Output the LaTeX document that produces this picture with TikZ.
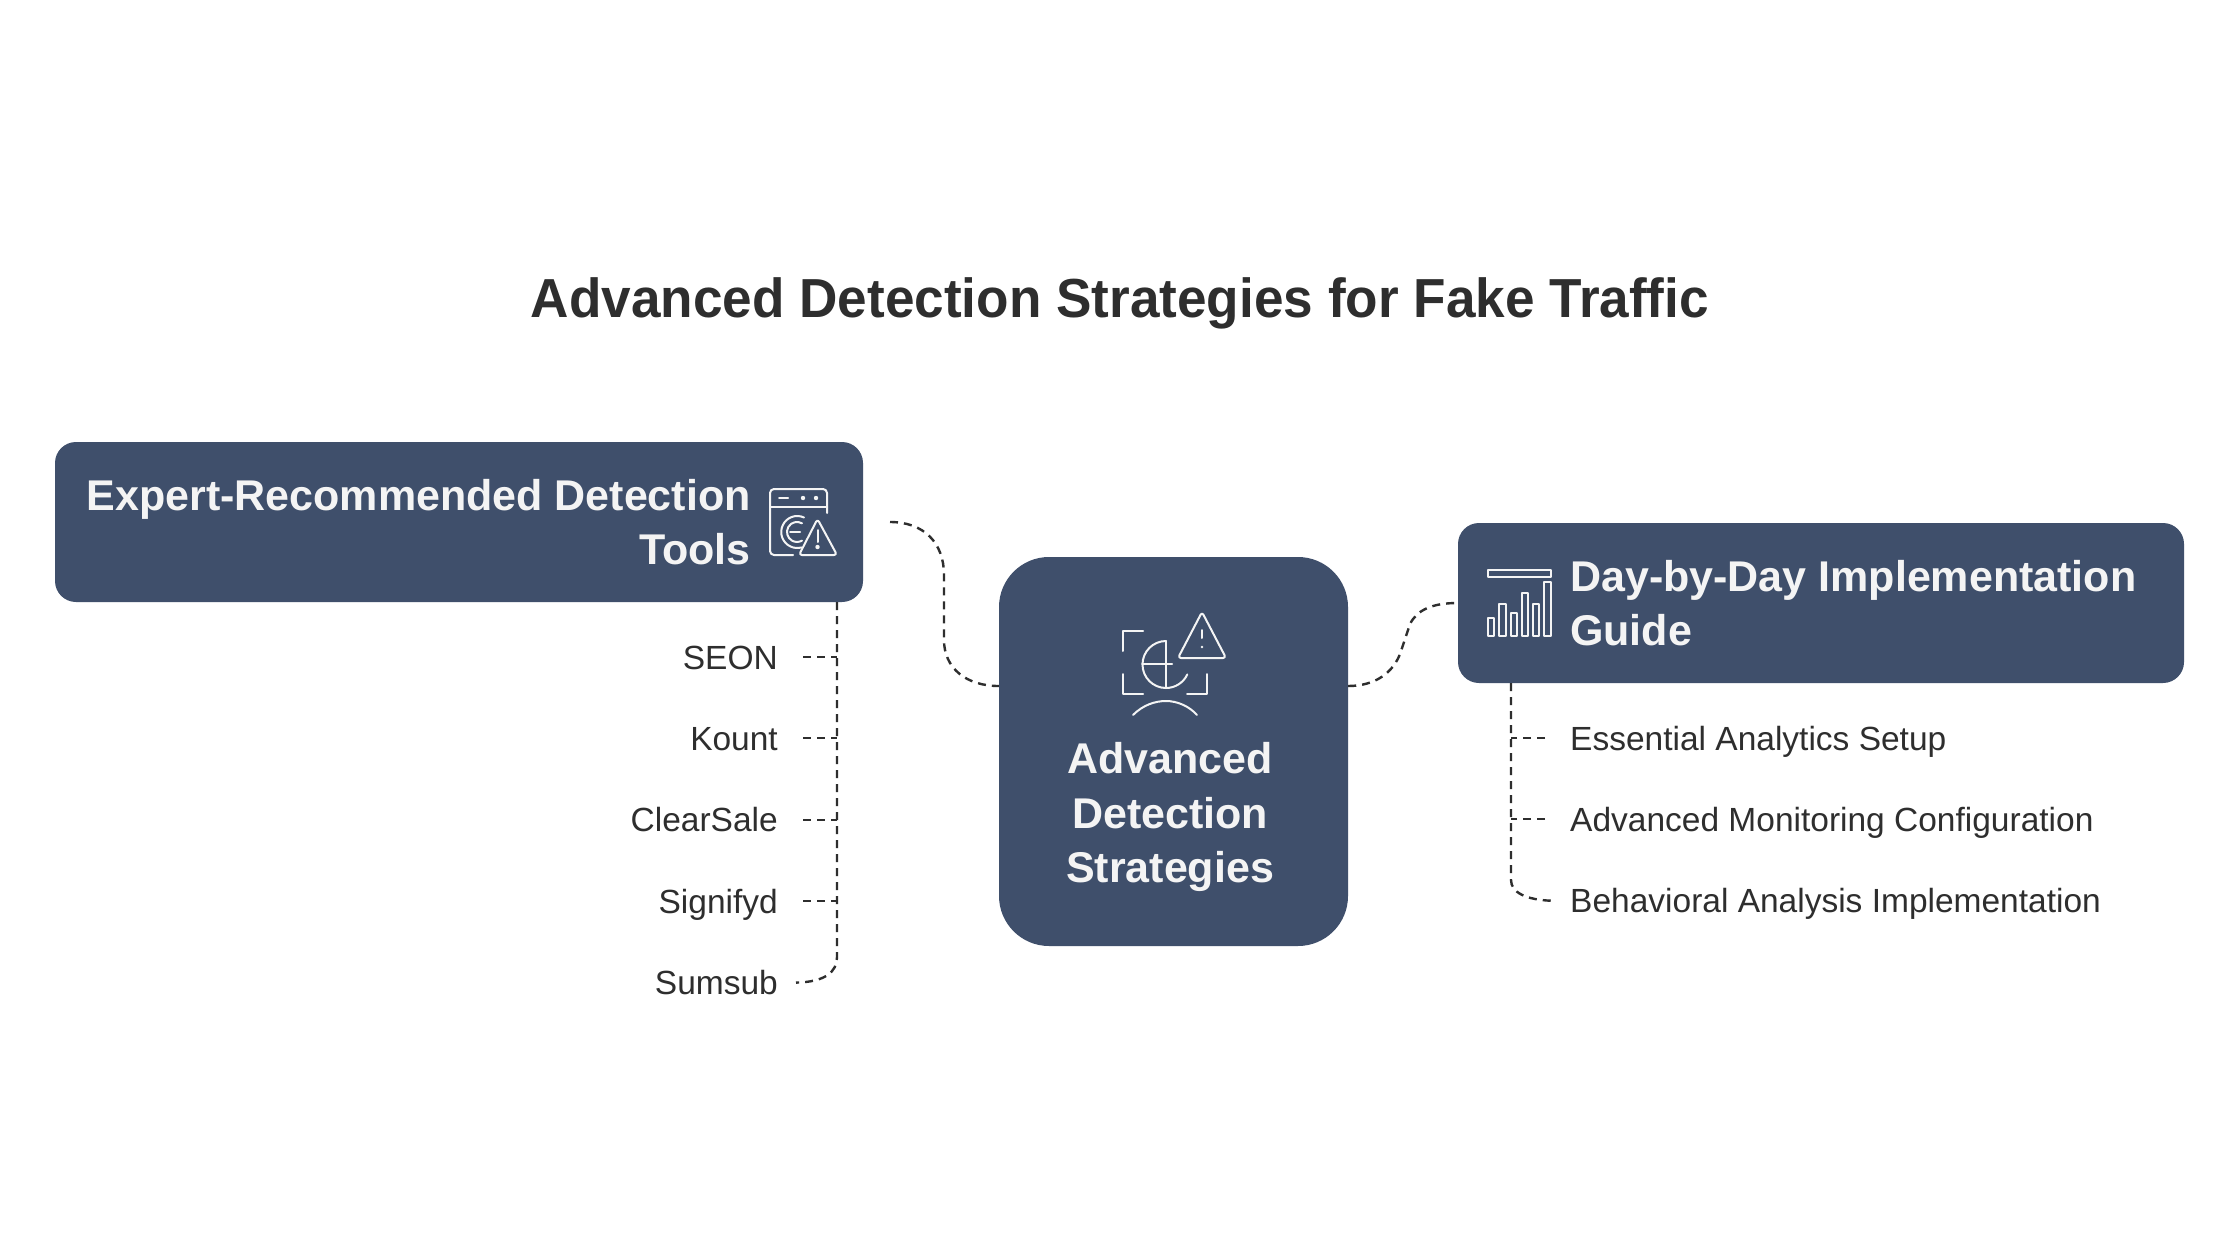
\documentclass[tikz,border=0pt]{standalone}
\usepackage{fontspec}
\setmainfont{Liberation Sans}
\newfontfamily\titlefont[FakeStretch=0.966]{Liberation Sans}
\usetikzlibrary{calc,positioning}
\definecolor{boxblue}{HTML}{3F4F6B}
\definecolor{inktext}{HTML}{2E2E2E}
\definecolor{boxtext}{HTML}{F4F4F4}
\tikzstyle{branch} = [inktext, line width=1.9pt, dash pattern=on 8pt off 6pt]
\tikzstyle{trunk} = [inktext, line width=2.4pt, dash pattern=on 8pt off 6pt]
\tikzstyle{iconline} = [boxtext, line width=2pt, line cap=round, line join=round]

\begin{document}
\begin{tikzpicture}[x=1pt, y=-1pt]
\tikzset{%
	block/.style = { rectangle, fill=boxblue, inner sep=0pt},
	blocktext/.style = { inner sep=0pt, text=boxtext, font=\fontsize{43}{54.3}\selectfont\bfseries},
	item/.style = { inner sep=0pt, minimum height=81pt, text height=26pt, text depth=2pt, text=inktext, font=\fontsize{33.5}{40}\selectfont}
}
\useasboundingbox (0,0) rectangle (2240,1260);
\fill[white] (0,0) rectangle (2240,1260);

\node(Title)		[inner sep=0pt, text=inktext, font=\fontsize{55}{66}\selectfont\titlefont\bfseries] at (1120,303)
								{Advanced Detection Strategies for Fake Traffic};

\node(ToolsBox)		[block, rounded corners=21pt, minimum width=808pt, minimum height=160pt] at (459,522) {};
\node(CenterBox)	[block, rounded corners=50pt, minimum width=349pt, minimum height=389pt] at (1173.5,751.5) {};
\node(GuideBox)		[block, rounded corners=21pt, minimum width=726pt, minimum height=160pt] at (1821,603) {};

\node(ToolsText)	[blocktext, anchor=east, align=right] at (751,522)
								{Expert-Recommended Detection\\Tools};
\node(CenterText)	[blocktext, align=center] at (1170,817)
								{Advanced\\Detection\\Strategies};
\node(GuideText)	[blocktext, anchor=west, align=left] at (1570,603)
								{Day-by-Day Implementation\\Guide};

\node(Seon)			[item, anchor=east] at (778,657) {SEON};
\node(Kount)		[item, below=0pt of Seon.south east, anchor=north east] {Kount};
\node(ClearSale)	[item, below=0pt of Kount.south east, anchor=north east] {ClearSale};
\node(Signifyd)		[item, below=0pt of ClearSale.south east, anchor=north east] {Signifyd};
\node(Sumsub)		[item, below=0pt of Signifyd.south east, anchor=north east] {Sumsub};

\node(Analytics)	[item, anchor=west] at (1570,738) {Essential Analytics Setup};
\node(Monitoring)	[item, below=0pt of Analytics.south west, anchor=north west] {Advanced Monitoring Configuration};
\node(Behavior)		[item, below=0pt of Monitoring.south west, anchor=north west] {Behavioral Analysis Implementation};

\coordinate (ToolsOut) at (890,522);
\coordinate (CenterIn) at (CenterBox.west |- 0,686);
\coordinate (CenterOut) at (CenterBox.east |- 0,686);
\coordinate (GuideIn) at (GuideBox.west);
\coordinate (ToolsTrunk) at (837,602);
\coordinate (GuideTrunk) at (1511,683);

\draw [trunk] (ToolsOut) .. controls (924,522) and (944,543) .. (944,575)
						-- (944,640) .. controls (944,668) and (966,686) .. (CenterIn);
\draw [trunk] (CenterOut) .. controls (1376,686) and (1393,672) .. (1400,654)
						-- (1410,624) .. controls (1417,610) and (1432,603) .. (GuideIn);

\draw [trunk] (ToolsTrunk) -- (837,957) .. controls (837,972) and (825,982) .. ([xshift=18pt]Sumsub.east);
\draw [branch, shorten <=25pt] (Seon.east) -- (Seon.east -| ToolsTrunk);
\draw [branch, shorten <=25pt] (Kount.east) -- (Kount.east -| ToolsTrunk);
\draw [branch, shorten <=25pt] (ClearSale.east) -- (ClearSale.east -| ToolsTrunk);
\draw [branch, shorten <=25pt] (Signifyd.east) -- (Signifyd.east -| ToolsTrunk);

\draw [trunk] (GuideTrunk) -- (1511,880) .. controls (1511,892) and (1525,900) .. ([xshift=-17pt]Behavior.west);
\draw [branch, shorten <=25pt] (Analytics.west) -- (Analytics.west -| GuideTrunk);
\draw [branch, shorten <=25pt] (Monitoring.west) -- (Monitoring.west -| GuideTrunk);

% window icon
\draw [iconline, rounded corners=4pt] (793,555) -- (770,555) -- (770,489) -- (827,489) -- (827,513);
\draw [iconline] (770,507) -- (827,507);
\draw [iconline] (779,498) -- (788,498);
\fill [boxtext] (803,498) circle (2.2pt) (816,498) circle (2.2pt);
\draw [iconline] (804,517.5) arc (65:285:16pt);
\draw [iconline] (802,523.3) arc (60:300:10pt);
\draw [iconline] (790,532) -- (800,532);
\draw [iconline, rounded corners=3pt] (817.5,519) -- (837,555) -- (799,555) -- cycle;
\draw [iconline] (817.5,530) -- (817.5,542);
\fill [boxtext] (817.5,547) circle (2.2pt);

% face scan icon
\draw [iconline, rounded corners=3pt] (1202,612) -- (1226,658) -- (1178,658) -- cycle;
\draw [iconline] (1202,630) -- (1202,638);
\fill [boxtext] (1202,647) circle (1.4pt);
\draw [iconline] (1143,631) -- (1123,631) -- (1123,651);
\draw [iconline] (1123,674) -- (1123,694) -- (1143,694);
\draw [iconline] (1187,694) -- (1207,694) -- (1207,674);
\draw [iconline] (1166,641) -- (1166,688);
\draw [iconline] (1172,664) -- (1142,664);
\draw [iconline] (1166,641) arc (90:335:23.5pt);
\draw [iconline] (1133,715) .. controls (1143,705) and (1155,701) .. (1166,701) .. controls (1177,701) and (1189,706) .. (1197,715);

% bar chart icon
\draw [iconline, line width=1.8pt] (1488,570) rectangle (1551,577);
\draw [iconline, line width=1.8pt] (1488,618) rectangle (1494,636);
\draw [iconline, line width=1.8pt] (1499,604) rectangle (1506,636);
\draw [iconline, line width=1.8pt] (1511,613) rectangle (1517,636);
\draw [iconline, line width=1.8pt] (1522,593) rectangle (1528,636);
\draw [iconline, line width=1.8pt] (1533,604) rectangle (1539,636);
\draw [iconline, line width=1.8pt] (1544,582) rectangle (1551,636);
\end{tikzpicture}
\end{document}
